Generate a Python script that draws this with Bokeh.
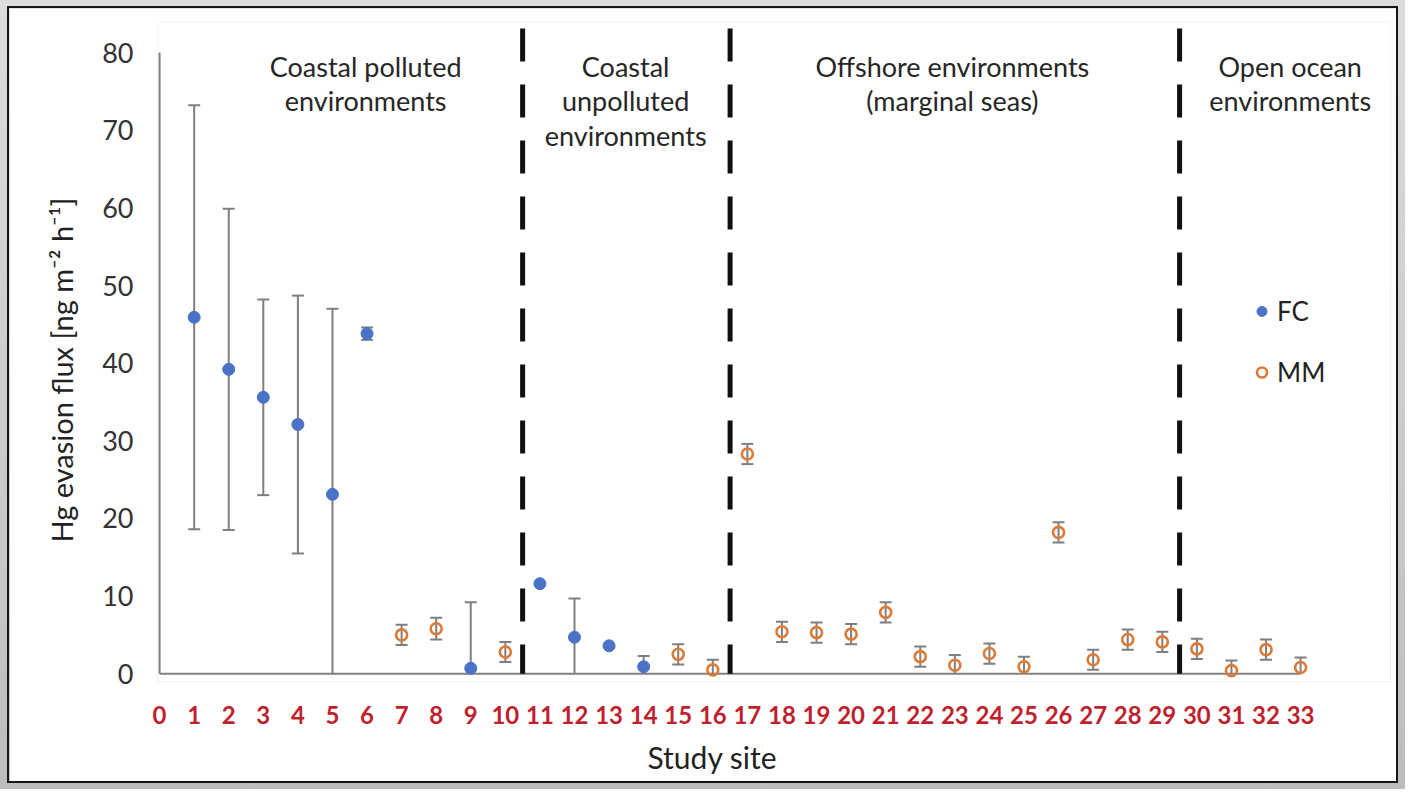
import numpy as np
from bokeh.plotting import figure
from bokeh.models import (Range1d, FixedTicker, Legend, LegendItem, Title)
from bokeh.layouts import column
from bokeh.core.properties import value
from bokeh.embed import file_html
from bokeh.resources import INLINE

# ---- data -------------------------------------------------------------
# flux-chamber (FC) sites
fc_site = [1, 2, 3, 4, 5, 6, 9, 11, 12, 13, 14]
fc_flux = [45.9, 39.2, 35.6, 32.1, 23.1, 43.8, 0.7, 11.6, 4.7, 3.6, 0.9]
fc_err = [27.3, 20.7, 12.6, 16.6, 23.9, 0.8, 8.5, 0.0, 5.0, 0.0, 1.4]

# micrometeorological (MM) sites
mm_site = [7, 8, 10, 15, 16, 17, 18, 19, 20, 21, 22, 23, 24, 25, 26, 27,
           28, 29, 30, 31, 32, 33]
mm_flux = [5.0, 5.8, 2.8, 2.5, 0.5, 28.3, 5.4, 5.3, 5.1, 7.9, 2.2, 1.1,
           2.6, 0.9, 18.2, 1.8, 4.4, 4.1, 3.2, 0.4, 3.1, 0.8]
mm_err = [1.3, 1.4, 1.3, 1.3, 1.3, 1.3, 1.3, 1.3, 1.3, 1.3, 1.3, 1.3,
          1.3, 1.3, 1.3, 1.3, 1.3, 1.3, 1.3, 1.3, 1.3, 1.3]

site_ticks = list(range(0, 34))
y_ticks = [0, 10, 20, 30, 40, 50, 60, 70, 80]

# environment groups: boundaries between groups and their captions
group_bounds = [10.5, 16.5, 29.5]
group_centers = [5.96, 13.48, 22.93, 32.7]
group_lines = [
    ["Coastal polluted", "environments"],
    ["Coastal", "unpolluted", "environments"],
    ["Offshore environments", "(marginal seas)"],
    ["Open ocean", "environments"],
]

FONT = "Lato"
BLUE = "#4a72c6"
ORANGE = "#dd7b36"
ERR = "#7f7f7f"

p = figure(width=1391, height=777,
           x_range=Range1d(-0.06, 35.6), y_range=Range1d(-1, 84),
           output_backend="svg", toolbar_location=None,
           min_border_left=148, min_border_right=10,
           min_border_top=13, min_border_bottom=104)
p.grid.visible = False
p.outline_line_color = None
p.background_fill_color = "white"
p.border_fill_color = "white"

# ---- axes ---------------------------------------------------------------
p.yaxis.ticker = FixedTicker(ticks=y_ticks)
p.yaxis.axis_line_color = None
p.yaxis.major_tick_line_color = None
p.yaxis.minor_tick_line_color = None
p.yaxis.major_tick_out = 0
p.yaxis.major_label_standoff = 24
p.yaxis.major_label_text_font = FONT
p.yaxis.major_label_text_font_size = "27px"
p.yaxis.major_label_text_color = "#333333"
# trailing no-break spaces nudge the rotated title towards the axis origin
p.yaxis.axis_label = "Hg evasion flux [ng m\u207b\u00b2 h\u207b\u00b9]" + "\u00a0" * 5
p.yaxis.axis_label_text_font = FONT
p.yaxis.axis_label_text_font_size = "29px"
p.yaxis.axis_label_text_font_style = "normal"
p.yaxis.axis_label_text_color = "#222222"
p.yaxis.axis_label_standoff = 20

p.xaxis.ticker = FixedTicker(ticks=site_ticks)
p.xaxis.axis_line_color = None
p.xaxis.major_tick_line_color = None
p.xaxis.minor_tick_line_color = None
p.xaxis.major_tick_out = 0
p.xaxis.major_label_standoff = 24
p.xaxis.major_label_text_font = FONT
p.xaxis.major_label_text_font_size = "24px"
p.xaxis.major_label_text_font_style = "bold"
p.xaxis.major_label_text_color = "#c01f2e"

# x title under the site numbers, offset from the frame's left edge
xtitle = Title(text="Study site", align="left", offset=490, standoff=20,
               vertical_align="bottom", text_font=FONT, text_font_size="30px",
               text_font_style="normal", text_color="#222222")
p.add_layout(xtitle, "below")

# axis lines spanning only the data extent
p.segment(x0=[0, 0], y0=[0, 0], x1=[0, max(site_ticks)], y1=[max(y_ticks), 0],
          line_color="#808080", line_width=2)

# ---- group separators and captions ------------------------------------
for xb in group_bounds:
    p.segment(x0=[xb], y0=[83.1], x1=[xb], y1=[0], line_color="#111111",
              line_width=5, line_dash="33 23", line_cap="butt")

caption_y = [78.2, 73.8, 69.3]
for xc, lines in zip(group_centers, group_lines):
    p.text(x=[xc] * len(lines), y=caption_y[:len(lines)], text=lines,
           text_font=value(FONT), text_font_size="27px",
           text_color="#262626", text_align="center",
           text_baseline="middle")

# ---- error bars ----------------------------------------------------------
def error_bars(sites, flux, err):
    s = np.array(sites, dtype=float)
    f = np.array(flux)
    e = np.array(err)
    show = e > 0
    hi = f + e
    lo = np.clip(f - e, 0, None)
    p.segment(x0=s[show], y0=lo[show], x1=s[show], y1=hi[show],
              line_color=ERR, line_width=2)
    p.scatter(x=s[show], y=hi[show], marker="dash", size=12,
              line_color=ERR, line_width=2)
    cap_lo = show & (f - e >= 0)
    p.scatter(x=s[cap_lo], y=lo[cap_lo], marker="dash", size=12,
              line_color=ERR, line_width=2)

error_bars(fc_site, fc_flux, fc_err)
error_bars(mm_site, mm_flux, mm_err)

fc_r = p.scatter(x=fc_site, y=fc_flux, marker="circle", size=12,
                 fill_color=BLUE, line_color=BLUE, line_width=1)
mm_r = p.scatter(x=mm_site, y=mm_flux, marker="circle", size=11,
                 fill_color=None, line_color=ORANGE, line_width=2.6)

legend = Legend(items=[LegendItem(label="FC", renderers=[fc_r]),
                       LegendItem(label="MM", renderers=[mm_r])],
                location=(1092, 293), orientation="vertical",
                padding=0, margin=0, spacing=29,
                glyph_width=25, glyph_height=30, label_height=30,
                label_standoff=3, label_text_font=FONT,
                label_text_font_size="26px", label_text_color="#222222",
                border_line_color=None, background_fill_alpha=0)
p.add_layout(legend)

page = column(p, styles={"background": "linear-gradient(#dcdcdc, #bdbdbd)",
                         "padding": "6px 7px 6px 7px"})
p.styles = {"border": "2px solid #161616"}

open("out.html", "w").write(file_html(page, INLINE))
